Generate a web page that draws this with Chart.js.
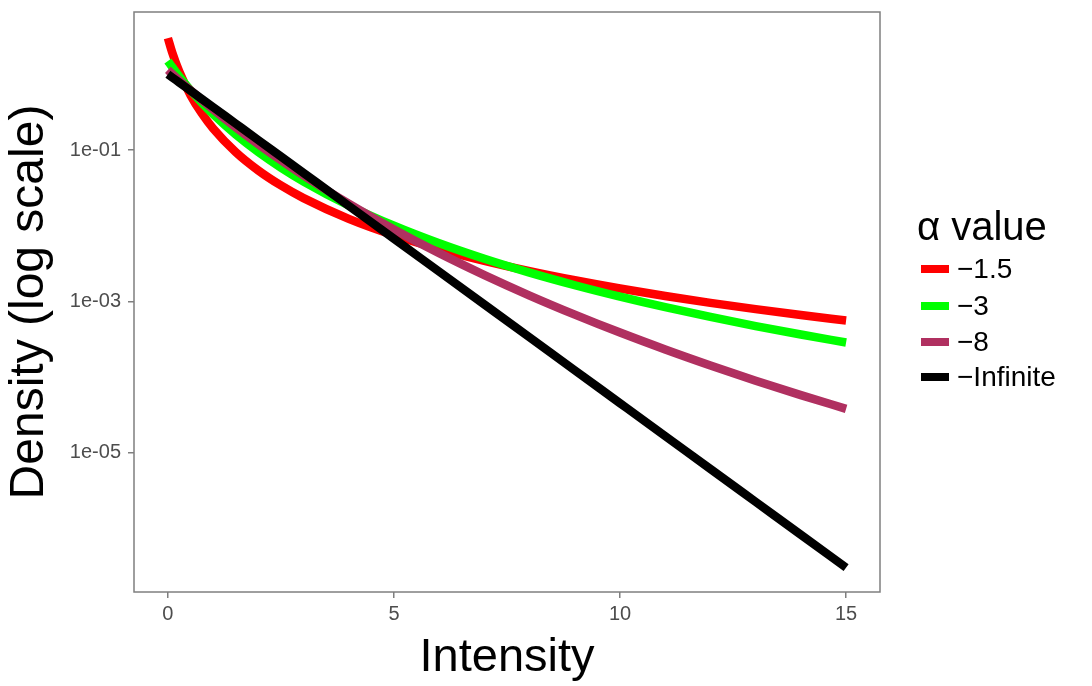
<!DOCTYPE html>
<html>
<head>
<meta charset="utf-8">
<script src="https://cdn.jsdelivr.net/npm/chart.js@4"></script>
<style>
  html, body { margin: 0; padding: 0; background: #fff; }
  #wrap { width: 1092px; height: 686px; }
</style>
</head>
<body>
<div id="wrap"><canvas id="myChart" width="1092" height="686"></canvas></div>
<script>
// intensity values (x)
const xValues = [0, 0.1, 0.25, 0.5, 0.75, 1, 1.5, 2, 2.5, 3, 4, 5, 6, 7, 8, 9, 10, 11, 12, 13, 14, 15];

// density per alpha value
const alpha15 = [3, 1.902, 1.089, 0.5303, 0.3036, 0.1925, 0.09375, 0.05367, 0.03402, 0.02314, 0.012346, 0.007476, 0.004923, 0.003443, 0.002518, 0.001907, 0.001484, 0.001183, 0.00096, 0.000792, 0.000662, 0.000561];
const alpha3 = [1.5, 1.234, 0.9364, 0.6144, 0.4196, 0.2963, 0.1599, 0.09375, 0.05853, 0.0384, 0.018519, 0.009996, 0.005859, 0.003658, 0.0024, 0.001639, 0.001157, 0.00084, 0.000625, 0.000474, 0.000366, 0.000287];
const alpha8 = [1.1429, 1.0059, 0.8333, 0.6142, 0.4573, 0.3436, 0.1991, 0.119, 0.07316, 0.04611, 0.01956, 0.008941, 0.004347, 0.002232, 0.001199, 0.000671, 0.0003885, 0.0002323, 0.0001428, 0.0000899, 0.0000581, 0.0000382];
const alphaInf = [1, 0.9048, 0.7788, 0.6065, 0.4724, 0.3679, 0.2231, 0.1353, 0.08208, 0.04979, 0.01832, 0.006738, 0.002479, 0.000912, 0.0003355, 0.0001234, 0.0000454, 0.0000167, 0.00000614, 0.00000226, 0.000000832, 0.000000306];

const seriesNames = ["\u22121.5", "\u22123", "\u22128", "\u2212Infinite"];
const seriesColors = ["#FF0000", "#00FF00", "#B03060", "#000000"];

const xTicks = [0, 5, 10, 15];
const yTicks = [1e-5, 1e-3, 1e-1];
const yTickLabels = ["1e-05", "1e-03", "1e-01"];

const FONT = "'Liberation Sans', Arial, Helvetica, sans-serif";

function toPoints(vals) {
  return xValues.map((x, i) => ({ x: x, y: vals[i] }));
}

const allSeries = [alpha15, alpha3, alpha8, alphaInf];

// later series on top, like the original
const datasets = allSeries.map((vals, i) => ({
  label: seriesNames[i],
  data: toPoints(vals),
  borderColor: seriesColors[i],
  backgroundColor: seriesColors[i],
  borderWidth: 8.5,
  pointRadius: 0,
  fill: false,
  order: allSeries.length - 1 - i,
  cubicInterpolationMode: "monotone",
}));

//panel border
const boxPlugin = {
  id: "panelBox",
  afterDraw(chart) {
    const { ctx, chartArea } = chart;
    ctx.save();
    ctx.strokeStyle = "#7f7f7f";
    ctx.lineWidth = 1.5;
    ctx.strokeRect(chartArea.left, chartArea.top, chartArea.right - chartArea.left, chartArea.bottom - chartArea.top);
    ctx.restore();
  },
};

//legend on the right
const legendPlugin = {
  id: "sideLegend",
  afterDraw(chart) {
    const ctx = chart.ctx;
    ctx.save();
    ctx.fillStyle = "#000";
    ctx.textBaseline = "middle";
    ctx.textAlign = "left";
    ctx.font = "40px " + FONT;
    ctx.fillText("\u03B1 value", 917, 229);
    ctx.font = "28px " + FONT;
    const rows = [269, 306, 342, 377];
    chart.data.datasets.forEach((ds, i) => {
      ctx.fillStyle = ds.borderColor;
      ctx.fillRect(921, rows[i] - 4, 28, 8);
      ctx.fillStyle = "#000";
      ctx.fillText(ds.label, 957, rows[i] + 1);
    });
    ctx.restore();
  },
};

const config = {
  type: "line",
  data: { datasets: datasets },
  options: {
    responsive: false,
    animation: false,
    layout: { padding: { left: 0, top: 12, right: 212, bottom: 0 } },
    plugins: {
      legend: { display: false },
      tooltip: { enabled: false },
    },
    scales: {
      x: {
        type: "linear",
        min: -0.75,
        max: 15.75,
        afterBuildTicks: (scale) => {
          scale.ticks = xTicks.map((v) => ({ value: v }));
        },
        afterFit: (scale) => {
          scale.height = 94;
          scale.paddingLeft = 0;
          scale.paddingRight = 0;
        },
        grid: { display: true, drawOnChartArea: false, drawTicks: true, tickLength: 6, color: "#7f7f7f", lineWidth: 1.5 },
        border: { display: false },
        ticks: {
          color: "#4d4d4d",
          font: { family: FONT, size: 20 },
          padding: 4,
          maxRotation: 0,
        },
        title: {
          display: true,
          text: "Intensity",
          color: "#000",
          font: { family: FONT, size: 47 },
          padding: { top: 0, bottom: 0 },
        },
      },
      y: {
        type: "logarithmic",
        min: 1.46e-7,
        max: 6.64,
        afterBuildTicks: (scale) => {
          scale.ticks = yTicks.map((v) => ({ value: v }));
        },
        afterFit: (scale) => {
          scale.width = 134;
          scale.paddingTop = 0;
          scale.paddingBottom = 0;
        },
        grid: { display: true, drawOnChartArea: false, drawTicks: true, tickLength: 6, color: "#7f7f7f", lineWidth: 1.5 },
        border: { display: false },
        ticks: {
          color: "#4d4d4d",
          font: { family: FONT, size: 20 },
          padding: 7,
          callback: function (value) {
            const idx = yTicks.indexOf(value);
            return idx >= 0 ? yTickLabels[idx] : "";
          },
        },
        title: {
          display: true,
          text: "Density (log scale)",
          color: "#000",
          font: { family: FONT, size: 48 },
          padding: { top: 1, bottom: 0 },
        },
      },
    },
  },
  plugins: [boxPlugin, legendPlugin],
};

const myChart = new Chart(document.getElementById("myChart"), config);
</script>
</body>
</html>
